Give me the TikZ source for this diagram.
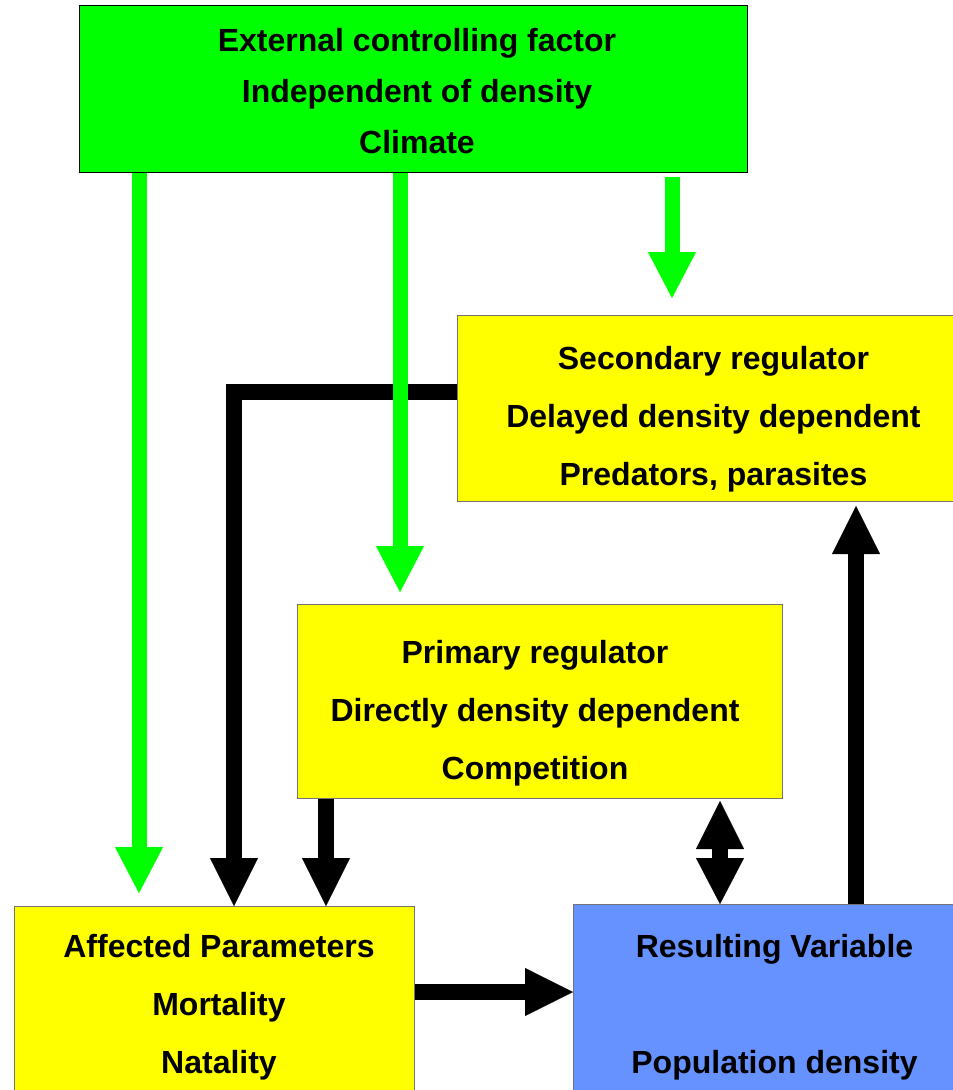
\documentclass[tikz,border=0pt]{standalone}
\usepackage{fontspec}
\setmainfont{Liberation Sans}
\usetikzlibrary{arrows.meta}
\definecolor{boxgreen}{RGB}{0,255,0}
\definecolor{arrgreen}{RGB}{0,255,0}
\definecolor{boxyellow}{RGB}{255,255,0}
\definecolor{boxblue}{RGB}{102,146,255}
\begin{document}
\begin{tikzpicture}[x=1pt,y=-1pt,
  box/.style={draw=black!55, line width=1pt, anchor=north west, inner sep=0pt},
  txt/.style={inner sep=0pt, align=center, font=\fontsize{32}{58}\selectfont\bfseries},
  garrow/.style={draw=arrgreen, line width=15pt, -{Triangle[width=48pt,length=46pt,line width=0.1pt]}},
  barrow/.style={draw=black, line width=16pt, line join=miter, -{Triangle[width=48pt,length=48pt,line width=0.1pt]}},
  dbarrow/.style={draw=black, line width=16pt, {Triangle[width=48pt,length=48pt,line width=0.1pt]}-{Triangle[width=48pt,length=46pt,line width=0.1pt]}},
]
\useasboundingbox (0,0) rectangle (953,1090);
\fill[white] (0,0) rectangle (953,1090);
% boxes
\node[box, fill=boxgreen, draw=black, minimum width=668pt, minimum height=167pt] (ext) at (79,5) {};
\node[box, fill=boxyellow, minimum width=512pt, minimum height=186pt] (sec) at (457,315) {};
\node[box, fill=boxyellow, minimum width=485pt, minimum height=194pt] (pri) at (297,604) {};
\node[box, fill=boxyellow, minimum width=400pt, minimum height=196pt] (aff) at (14,906) {};
\node[box, fill=boxblue, minimum width=402pt, minimum height=200pt] (res) at (573,904) {};
% texts
\node[txt, font=\fontsize{32}{51}\selectfont\bfseries] (ext-t) at ([xshift=3.5pt,yshift=-2pt]ext.center) {External controlling factor\\Independent of density\\Climate};
\node[txt] (sec-t) at ([yshift=-11pt]sec.center) {Secondary regulator\\Delayed density dependent\\Predators, parasites};
\node[txt] (pri-t) at ([xshift=-5pt,yshift=-12pt]pri.center) {Primary regulator\\Directly density dependent\\Competition};
\node[txt] (aff-t) at ([xshift=4.5pt,yshift=-3pt]aff.center) {Affected Parameters\\Mortality\\Natality};
\node[txt] (res-t) at ([yshift=-3pt]res.center) {Resulting Variable\\[58pt]Population density};
% helper coordinates
\coordinate (g1) at (139,0);
\coordinate (g2) at (400,0);
\coordinate (g3) at (672,0);
\coordinate (corner) at (234,392);
\coordinate (p1) at (326,0);
\coordinate (d1) at (720,0);
\coordinate (u1) at (856,0);
\coordinate (h1) at (0,992);
% black connectors
\draw[barrow] (sec.west |- corner) -- (corner) -- (aff.north -| corner);
\draw[barrow] (pri.south -| p1) -- (aff.north -| p1);
\draw[dbarrow] ([yshift=-2pt]pri.south -| d1) -- (res.north -| d1);
\draw[barrow, shorten >=4pt] (res.north -| u1) -- (sec.south -| u1);
\draw[barrow] (aff.east |- h1) -- (res.west |- h1);
% green connectors
\draw[garrow, shorten >=13pt] (ext.south -| g1) -- (aff.north -| g1);
\draw[garrow, shorten >=12pt] (ext.south -| g2) -- (pri.north -| g2);
\draw[garrow, shorten <=4pt, shorten >=17pt] (ext.south -| g3) -- (sec.north -| g3);
\end{tikzpicture}
\end{document}
